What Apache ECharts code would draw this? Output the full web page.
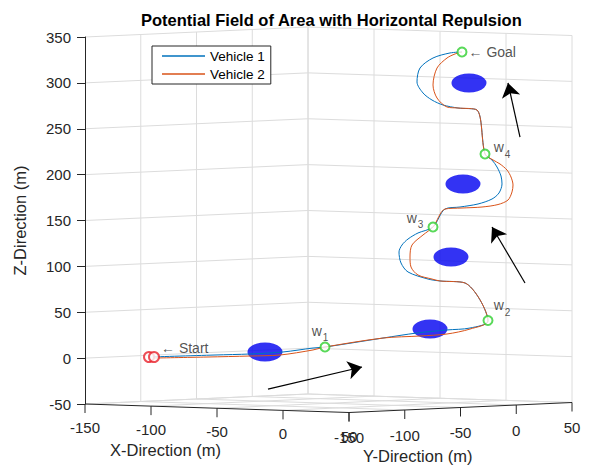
<!DOCTYPE html>
<html><head><meta charset="utf-8">
<script src="https://cdn.jsdelivr.net/npm/echarts@6/dist/echarts.min.js"></script>
<style>html,body{margin:0;padding:0;background:#fff}#c{width:590px;height:468px}</style>
</head><body><div id="c"></div>
<script>
// ---------- data ----------
const chartTitle = 'Potential Field of Area with Horizontal Repulsion';
const seriesNames = ['Vehicle 1', 'Vehicle 2'];
const xTicks = [-150, -100, -50, 0, 50];
const yTicks = [-150, -100, -50, 0, 50];
const zTicks = [-50, 0, 50, 100, 150, 200, 250, 300, 350];
// trajectory points in the view plane: [horizontal screen position, Z (m)]
const vehicle1 = [
  [64,1.2],[130,3.4],[165,4.5],[198,6.7],[228,11.0],[240,12.1],
  [298,21.9],[332,27.4],[362,30.7],[385,32.8],[403,40.5],
  [380,81.9],[355,84.1],[343,86.2],[323,93.9],[316,103.7],[314,115.7],[317,123.3],[323,129.8],[333,136.4],[348,142.9],
  [360,162.5],[375,164.7],[393,168.0],[407,173.4],[414,180.0],[417,189.8],[416,198.5],[412,208.3],[407,215.9],[400,222.5],
  [392,270.4],[373,272.6],[358,275.9],[347,281.3],[338,289.0],[332,301.0],[335,316.2],[348,327.1],[365,332.6],[377,333.7]
];
const vehicle2 = [
  [69,0.1],[122,1.2],[165,2.3],[195,3.4],[228,8.9],[240,12.1],
  [298,21.9],[335,24.1],[362,26.3],[385,31.7],[403,40.5],
  [380,81.9],[355,84.1],[347,86.2],[333,90.6],[326,99.3],[325,110.2],[327,123.3],[338,134.2],[348,142.9],
  [360,162.5],[377,163.6],[397,164.7],[413,167.4],[423,172.3],[427,181.1],[428,188.7],[426,197.4],[422,205.0],[415,211.6],[408,216.0],[400,222.5],
  [392,270.4],[373,272.6],[362,273.7],[352,283.5],[348,297.7],[352,316.2],[362,327.1],[370,331.5],[377,333.7]
];
const obstacles = [[180,6.7],[345,31.7],[366,110.2],[378,189.8],[384,299.9]];
const startPoints = [[64,1.2],[69,1.2]];
const waypointNames = ['1', '2', '3', '4', 'Goal'];
const waypoints = [[240,12.1],[403,41.0],[348,142.9],[400,222.5],[377,333.7]];
const arrowTails = [[183,-33.7],[440,81.9],[435,241.0]];
const arrowTips = [[277,-9.7],[407,142.9],[423,299.9]];

// ---------- view projection of the 3-D box (style constants) ----------
const FONT = 'Liberation Sans, Arial, Helvetica, sans-serif';
const DARK = '#262626', GRID = '#dcdcdc';
const AX_W = 264, AX_D = 8.5, AY_W = 223, AY_D = -10, PXZ = 367 / 400;
function proj(X, Y, Z) {
  const a = (X - xTicks[0]) / (xTicks[xTicks.length-1] - xTicks[0]);
  const b = (Y - yTicks[0]) / (yTicks[yTicks.length-1] - yTicks[0]);
  return [a * AX_W + b * AY_W, Z - (a * AX_D + b * AY_D) / PXZ];
}
const xDrop = v => (v - xTicks[0]) / 200 * AX_D;
const yDrop = v => AX_D + (v - yTicks[0]) / 200 * AY_D;

const chart = echarts.init(document.getElementById('c'), null, {renderer: 'svg'});

const xRich = {}, yRich = {};
xTicks.forEach((v, i) => { xRich['d' + i] = {fontSize: 15, color: DARK, fontFamily: FONT, padding: [Math.round(xDrop(v)), 0, 0, 0]}; });
yTicks.forEach((v, i) => { yRich['d' + i] = {fontSize: 15, color: DARK, fontFamily: FONT, padding: [Math.round(yDrop(v) - AY_D - AX_D), 0, 0, 0]}; });

const wpData = waypoints.map((p, i) => {
  const name = waypointNames[i];
  const isGoal = name === 'Goal';
  const offs = [[-5, -14], [14, -13], [-18, -7], [17, -4]];
  return {
    value: p,
    label: isGoal ? {show: true, position: 'right', distance: 1, formatter: '\u2190 Goal', fontSize: 14, color: DARK}
      : {show: true, position: 'inside', offset: offs[i], formatter: '{w|w}{s|' + name + '}'}
  };
});

const option = {
  animation: false,
  textStyle: {fontFamily: FONT},
  title: {text: chartTitle, left: 136, top: 6, textStyle: {fontSize: 16.5, fontWeight: 'bold', color: '#000', fontFamily: FONT}},
  legend: {
    data: seriesNames, orient: 'vertical', left: 152, top: 46, padding: [3, 6, 3, 10], icon: 'rect',
    itemWidth: 43, itemHeight: 1.3, itemGap: 4, borderColor: DARK, borderWidth: 1, backgroundColor: '#fff',
    textStyle: {fontSize: 13.5, color: '#000', fontFamily: FONT, lineHeight: 13}
  },
  grid: [
    {left: 85, top: 37, width: 487, height: 367},
    {left: 85, top: 404, width: 264, height: 5},
    {left: 349, top: 404, width: 223, height: 5}
  ],
  xAxis: [
    {gridIndex: 0, type: 'value', min: 0, max: 487, show: false},
    {gridIndex: 1, type: 'value', min: -150, max: 50, interval: 50, axisLine: {show: false}, axisTick: {show: false}, splitLine: {show: false},
     axisLabel: {showMinLabel: true, showMaxLabel: true, margin: 11, formatter: v => '{d' + xTicks.indexOf(v) + '|' + v + '}', rich: xRich}},
    {gridIndex: 2, type: 'value', min: -150, max: 50, interval: 50, axisLine: {show: false}, axisTick: {show: false}, splitLine: {show: false},
     axisLabel: {showMinLabel: true, showMaxLabel: true, margin: 11, formatter: v => '{d' + yTicks.indexOf(v) + '|' + v + '}', rich: yRich}}
  ],
  yAxis: [
    {gridIndex: 0, type: 'value', min: -50, max: 350, interval: 50,
     axisLine: {show: true, lineStyle: {color: DARK}}, axisTick: {show: true, length: 8, lineStyle: {color: DARK}},
     axisLabel: {fontSize: 15, color: DARK, margin: 14}, splitLine: {show: false},
     name: 'Z-Direction (m)', nameLocation: 'middle', nameGap: 57, nameTextStyle: {fontSize: 16.5, color: DARK}},
    {gridIndex: 1, type: 'value', min: 0, max: 1, show: false},
    {gridIndex: 2, type: 'value', min: 0, max: 1, show: false}
  ],
  graphic: [
    {type: 'text', left: 110, top: 441, style: {text: 'X-Direction (m)', font: '16.5px ' + FONT, fill: DARK}},
    {type: 'text', left: 363, top: 447, style: {text: 'Y-Direction (m)', font: '16.5px ' + FONT, fill: DARK}}
  ],
  series: [
    {
      type: 'custom', name: 'box', xAxisIndex: 0, yAxisIndex: 0, data: [[0, 0]], clip: false, silent: true, z: 0,
      renderItem: function (params, api) {
        const light = [], dark = [];
        const P = (X, Y, Z) => api.coord(proj(X, Y, Z));
        const seg = (arr, p1, p2) => arr.push({type: 'line', shape: {x1: p1[0], y1: p1[1], x2: p2[0], y2: p2[1]}});
        const x0 = xTicks[0], x1 = xTicks[xTicks.length-1], y0 = yTicks[0], y1 = yTicks[yTicks.length-1];
        const z0 = zTicks[0], z1 = zTicks[zTicks.length-1];
        zTicks.forEach(z => light.push({type: 'polyline', shape: {points: [P(x0, y0, z), P(x0, y1, z), P(x1, y1, z)]}}));
        yTicks.forEach(y => { if (y !== y0) seg(light, P(x0, y, z0), P(x0, y, z1)); });
        xTicks.forEach(x => seg(light, P(x, y1, z0), P(x, y1, z1)));
        xTicks.forEach(x => seg(x === x1 ? dark : light, P(x, y0, z0), P(x, y1, z0)));
        yTicks.forEach(y => seg(y === y0 ? dark : light, P(x0, y, z0), P(x1, y, z0)));
        xTicks.forEach(x => { const p = P(x, y0, z0); seg(dark, p, [p[0], p[1] + 9]); });
        yTicks.forEach(y => { const p = P(x1, y, z0); seg(dark, p, [p[0], p[1] + 9]); });
        light.forEach(e => e.style = {stroke: GRID, fill: null, lineWidth: 1});
        dark.forEach(e => e.style = {stroke: DARK, fill: null, lineWidth: 1});
        return {type: 'group', children: light.concat(dark)};
      }
    },
    {type: 'scatter', name: 'obstacles', data: obstacles, symbol: 'circle', symbolSize: [35, 19], itemStyle: {color: '#0000f0'}, z: 1, silent: true},
    {type: 'line', name: seriesNames[0], data: vehicle1, symbol: 'none', smooth: 0.3, lineStyle: {color: '#0072BD', width: 1}, itemStyle: {color: '#0072BD'}, z: 2},
    {type: 'line', name: seriesNames[1], data: vehicle2, symbol: 'none', smooth: 0.3, lineStyle: {color: '#D95319', width: 1}, itemStyle: {color: '#D95319'}, z: 2},
    {type: 'scatter', name: 'start', symbol: 'emptyCircle', symbolSize: 10, itemStyle: {color: '#e8202a', borderWidth: 1}, z: 3,
     data: startPoints.map((p, i) => i === startPoints.length - 1 ?
       {value: p, label: {show: true, position: 'right', distance: 1, offset: [0, -9], formatter: '\u2190 Start', fontSize: 14, color: DARK}} : {value: p})},
    {type: 'scatter', name: 'waypoints', symbol: 'emptyCircle', symbolSize: 9, itemStyle: {color: '#2fd02f', borderWidth: 1}, z: 3,
     label: {rich: {w: {fontSize: 14, color: DARK, verticalAlign: 'top'}, s: {fontSize: 10, color: DARK, padding: [9, 0, 0, 1]}}},
     data: wpData},
    {type: 'lines', name: 'arrows', coordinateSystem: 'cartesian2d', xAxisIndex: 0, yAxisIndex: 0, z: 4,
     data: arrowTails.map((t, i) => ({coords: [t, arrowTips[i]]})),
     symbol: ['none', 'arrow'], symbolSize: [8, 14], lineStyle: {color: '#000', width: 1.2, opacity: 1, curveness: 0}}
  ]
};
chart.setOption(option);
</script></body></html>
